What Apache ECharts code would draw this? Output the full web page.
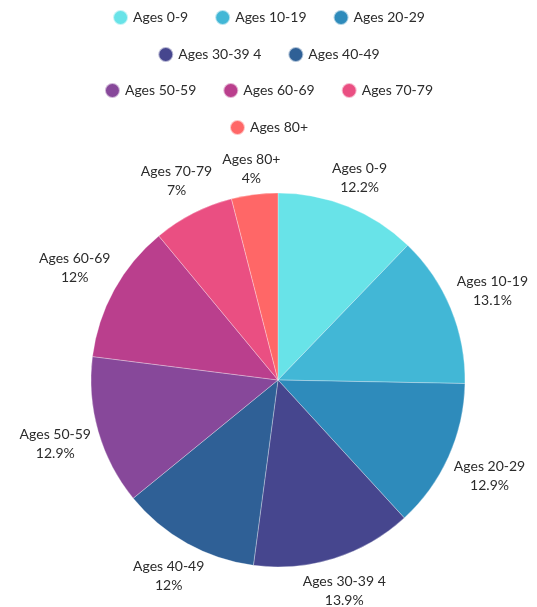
<!DOCTYPE html>
<html>
<head>
<meta charset="utf-8">
<script src="https://cdn.jsdelivr.net/npm/echarts@6/dist/echarts.min.js"></script>
<style>
  html, body { margin: 0; padding: 0; background: #fff; }
  #pie { width: 537px; height: 607px; }
</style>
</head>
<body>
<div id="pie"></div>
<script>
var categories = ['Ages 0-9', 'Ages 10-19', 'Ages 20-29', 'Ages 30-39 4', 'Ages 40-49',
                  'Ages 50-59', 'Ages 60-69', 'Ages 70-79', 'Ages 80+'];
var values = [12.2, 13.1, 12.9, 13.9, 12, 12.9, 12, 7, 4];
var colors = ['#68e3e8', '#42b7d6', '#2e8bbb', '#46468e', '#2f6096',
              '#87489a', '#ba3f8d', '#ea4f82', '#ff6767'];
// legend rows (each centred on its own)
var legendRows = [[0, 1, 2], [3, 4], [5, 6, 7], [8]];
var legendTops = [9, 46, 82, 119];

var font = 'Lato, "Noto Sans", sans-serif';

var pieData = categories.map(function (name, i) {
    return { name: name, value: values[i] };
});

var legends = legendRows.map(function (row, r) {
    return {
        left: 'center', top: legendTops[r], padding: 0,
        icon: 'circle', itemWidth: 15, itemHeight: 15, itemGap: 26,
        selectedMode: false,
        textStyle: { color: '#2b2b2b', fontSize: 14, fontFamily: font },
        data: row.map(function (i) { return categories[i]; })
    };
});

// put each label just outside the arc, centred along the slice's middle direction
function placeLabel(params) {
    var pts = params.labelLinePoints;
    if (!pts) return {};
    var dx = pts[1][0] - pts[0][0], dy = pts[1][1] - pts[0][1];
    var len = Math.sqrt(dx * dx + dy * dy) || 1;
    dx /= len; dy /= len;
    var hw = params.labelRect.width / 2, hh = params.labelRect.height / 2 - 3;
    var d = 6 + Math.abs(dx) * hw + Math.abs(dy) * hh;
    return {
        x: pts[0][0] + dx * d,
        y: pts[0][1] + dy * d,
        align: 'center',
        verticalAlign: 'middle'
    };
}

var option = {
    backgroundColor: '#fff',
    color: colors,
    legend: legends,
    series: [{
        type: 'pie',
        center: [278, 380],
        radius: 187,
        startAngle: 90,
        clockwise: true,
        avoidLabelOverlap: false,
        animation: false,
        itemStyle: { borderColor: 'rgba(255,255,255,0.6)', borderWidth: 0.5 },
        label: {
            show: true,
            position: 'outside',
            formatter: '{b}\n{c}%',
            color: '#2b2b2b',
            fontSize: 14,
            lineHeight: 19,
            fontFamily: font,
            align: 'center'
        },
        labelLine: { show: true, length: 10, length2: 0, lineStyle: { opacity: 0, width: 0 } },
        labelLayout: placeLabel,
        emphasis: { disabled: true },
        data: pieData
    }]
};

var myChart = echarts.init(document.getElementById('pie'));
myChart.setOption(option);
</script>
</body>
</html>
